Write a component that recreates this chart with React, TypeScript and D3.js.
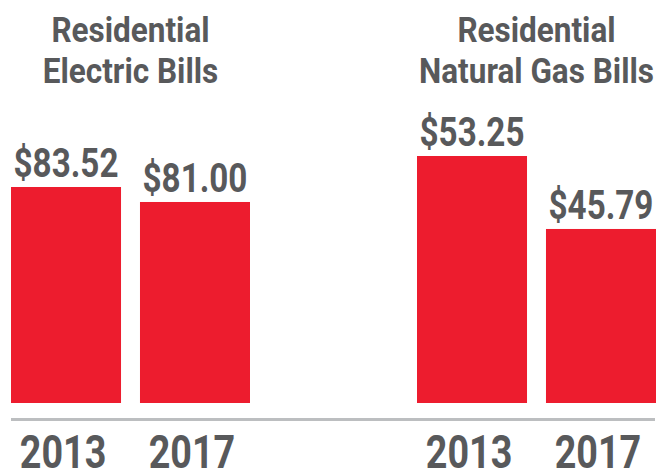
import React from "react";
import { scaleBand, scaleLinear } from "d3";

const years = ["2013", "2017"];
const electricValues = [83.52, 81.0];
const gasValues = [53.25, 45.79];
const electricTitle = ["Residential", "Electric Bills"];
const gasTitle = ["Residential", "Natural Gas Bills"];

const RED = "#ED1C2E";
const GREY = "#58595B";
const LINE = "#BCBEC0";
const FONT = "Roboto, 'Liberation Sans', sans-serif";

const baseY = 403;

// condensed look: squeeze the glyphs horizontally
const Label = ({ x, y, size, sx, children }) => (
  <text
    transform={`translate(${x},${y}) scale(${sx},1)`}
    textAnchor="middle"
    fontFamily={FONT}
    fontWeight="bold"
    fontSize={size}
    fill={GREY}
  >
    {children}
  </text>
);

const Group = ({ title, values, x0, x1, floor, topY }) => {
  const x = scaleBand().domain(years).range([x0, x1]).paddingInner(0.147);
  const y = scaleLinear().domain([floor, Math.max(...values)]).range([baseY, topY]);
  const cx = (x0 + x1) / 2;
  return (
    <g>
      {title.map((t, i) => (
        <Label key={t} x={cx} y={42 + i * 41} size={35} sx={0.9}>
          {t}
        </Label>
      ))}
      {values.map((v, i) => (
        <g key={years[i]}>
          <rect
            x={x(years[i])}
            y={y(v)}
            width={x.bandwidth()}
            height={baseY - y(v)}
            fill={RED}
          />
          <Label x={x(years[i]) + x.bandwidth() / 2} y={y(v) - 10} size={41} sx={0.81}>
            {"$" + v.toFixed(2)}
          </Label>
          <Label x={x(years[i]) + x.bandwidth() / 2 - 3} y={468} size={46} sx={0.82}>
            {years[i]}
          </Label>
        </g>
      ))}
    </g>
  );
};

export default function App() {
  return (
    <svg
      width={661}
      height={470}
      style={{ position: "absolute", left: 0, top: 0, background: "#fff" }}
    >
      <Group title={electricTitle} values={electricValues} x0={11} x1={250} floor={47.2} topY={187} />
      <Group title={gasTitle} values={gasValues} x0={417} x1={656} floor={28} topY={156} />
      <line x1={11} x2={655} y1={419.5} y2={419.5} stroke={LINE} strokeWidth={3} />
    </svg>
  );
}
